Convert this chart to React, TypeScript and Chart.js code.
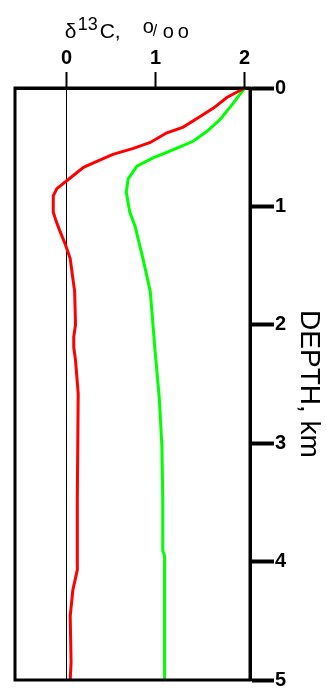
import React, { useEffect, useRef } from "react";
import { Chart, registerables } from "chart.js";

Chart.register(...registerables);

// Depth (km) and δ13C (‰) for the red profile
const redDepth = [0, 0.08, 0.17, 0.24, 0.33, 0.38, 0.46, 0.51, 0.56, 0.62, 0.67, 0.76, 0.85, 0.91, 1.05, 1.12, 1.2, 1.31, 1.44, 1.72, 2.0, 2.1, 2.19, 2.3, 2.58, 3.47, 4.07, 4.24, 4.46, 4.85, 5.0];
const redValue = [2.0, 1.8, 1.65, 1.5, 1.31, 1.12, 0.94, 0.75, 0.52, 0.34, 0.19, 0.04, -0.11, -0.15, -0.15, -0.12, -0.08, -0.02, 0.04, 0.09, 0.1, 0.08, 0.08, 0.1, 0.13, 0.12, 0.12, 0.07, 0.04, 0.05, 0.04];

// Depth (km) and δ13C (‰) for the green profile
const greenDepth = [0, 0.13, 0.27, 0.37, 0.45, 0.52, 0.59, 0.66, 0.77, 0.88, 1.05, 1.17, 1.45, 1.72, 2.0, 2.19, 2.61, 3.02, 3.47, 3.91, 3.95, 5.0];
const greenValue = [2.0, 1.87, 1.72, 1.57, 1.42, 1.2, 0.97, 0.79, 0.69, 0.67, 0.71, 0.77, 0.86, 0.94, 0.97, 0.99, 1.04, 1.07, 1.08, 1.08, 1.1, 1.1];

const xTicks = [0, 1, 2];
const yTicks = [0, 1, 2, 3, 4, 5];
const yTitle = "DEPTH, km";

// x-axis title "δ13C, o/oo" pieces: text, font size, horizontal offset, baseline
const titleParts = ["δ", "13", "C,", "o", "/", "o", "o"];
const titleSizes = [21, 18, 21, 20, 16, 20, 20];
const titleDx = [0, 13, 35, 78, 88, 98, 113];
const titleBase = [38, 30, 38, 33, 36, 38, 38];

const FONT = "'Liberation Sans', Arial, Helvetica, sans-serif";

const frame = {
  id: "frame",
  afterDraw(chart: any) {
    const { ctx, chartArea } = chart;
    ctx.save();
    ctx.strokeStyle = "#000";
    ctx.lineWidth = 3;
    ctx.strokeRect(chartArea.left, chartArea.top, chartArea.right - chartArea.left, chartArea.bottom - chartArea.top);
    // x axis title with super/subscripts
    const x0 = chart.scales.x.getPixelForValue(0) - 2;
    ctx.fillStyle = "#000";
    ctx.textAlign = "left";
    ctx.textBaseline = "alphabetic";
    titleParts.forEach((t, i) => {
      ctx.font = `${titleSizes[i]}px ${FONT}`;
      ctx.fillText(t, x0 + titleDx[i], titleBase[i]);
    });
    ctx.restore();
  },
};

export default function App() {
  const ref = useRef<HTMLCanvasElement>(null);
  useEffect(() => {
    const canvas = ref.current!;
    const chart = new Chart(canvas, {
      type: "scatter",
      data: {
        datasets: [
          {
            data: redDepth.map((d, i) => ({ x: redValue[i], y: d })),
            showLine: true,
            borderColor: "#ff0000",
            backgroundColor: "#ff0000",
            borderWidth: 3,
            pointRadius: 0,
            tension: 0,
          },
          {
            data: greenDepth.map((d, i) => ({ x: greenValue[i], y: d })),
            showLine: true,
            borderColor: "#00ff00",
            backgroundColor: "#00ff00",
            borderWidth: 3,
            pointRadius: 0,
            tension: 0,
          },
        ],
      },
      options: {
        responsive: false,
        animation: false,
        layout: { padding: { left: 15, right: 0, top: 0, bottom: 2 } },
        plugins: { legend: { display: false }, tooltip: { enabled: false }, title: { display: false } },
        scales: {
          x: {
            type: "linear",
            position: "top",
            min: -0.58,
            max: 2.06,
            afterBuildTicks: (s: any) => {
              s.ticks = xTicks.map((v) => ({ value: v }));
            },
            afterFit: (s: any) => {
              s.height = 88;
            },
            grid: {
              drawOnChartArea: true,
              color: (c: any) => (c.tick && c.tick.value === 0 ? "#000" : "rgba(0,0,0,0)"),
              lineWidth: 1,
              tickColor: "#000",
              tickWidth: 2,
              tickLength: 16,
            },
            border: { display: true, color: "#000", width: 3 },
            ticks: {
              color: "#000",
              padding: 2,
              font: { family: FONT, size: 20, weight: "bold" },
              callback: (v: any) => String(v),
            },
            title: { display: false },
          },
          y: {
            type: "linear",
            position: "right",
            reverse: true,
            min: 0,
            max: 5,
            afterBuildTicks: (s: any) => {
              s.ticks = yTicks.map((v) => ({ value: v }));
            },
            afterFit: (s: any) => {
              s.width = 76;
            },
            grid: {
              drawOnChartArea: false,
              tickColor: "#000",
              tickWidth: 4,
              tickLength: 24,
            },
            border: { display: true, color: "#000", width: 3 },
            ticks: {
              color: "#000",
              padding: 1,
              font: { family: FONT, size: 20, weight: "bold" },
              callback: (v: any) => String(v),
            },
            title: {
              display: true,
              text: yTitle,
              color: "#000",
              padding: { top: 0, bottom: 0 },
              font: { family: FONT, size: 28 },
            },
          },
        },
      },
      plugins: [frame],
    } as any);
    return () => chart.destroy();
  }, []);
  return (
    <div style={{ position: "absolute", left: 0, top: 0, width: 326, height: 693, background: "#fff" }}>
      <canvas ref={ref} width={326} height={693} style={{ display: "block" }} />
    </div>
  );
}
